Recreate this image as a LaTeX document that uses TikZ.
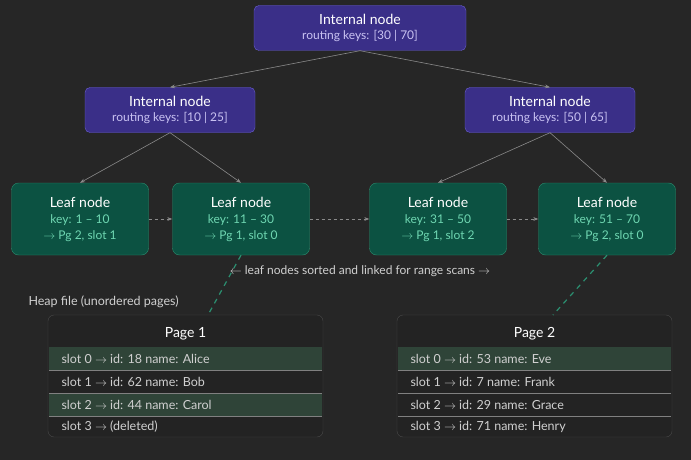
\documentclass[tikz,border=0pt]{standalone}
\usepackage{fontspec}
\setmainfont{Lato}
\usetikzlibrary{positioning, calc, arrows.meta}
\definecolor{bgFill}{HTML}{262626}
\definecolor{iFill}{HTML}{3A2F88}
\definecolor{iDraw}{HTML}{6A5FCF}
\definecolor{iSub}{HTML}{C9C2F2}
\definecolor{lFill}{HTML}{0C5242}
\definecolor{lDraw}{HTML}{2B8F70}
\definecolor{lSub}{HTML}{6FD7B2}
\definecolor{pFill}{HTML}{232323}
\definecolor{pDraw}{HTML}{4A4A4A}
\definecolor{rowFill}{HTML}{2F4438}
\definecolor{eColor}{HTML}{8A8A8A}
\definecolor{tColor}{HTML}{D0D0D0}
\tikzset{
    Internal/.style = {
        draw=iDraw, fill=iFill, rounded corners=5pt,
        minimum width=170pt, minimum height=45pt, align=center,
        text=white, font=\fontsize{14}{17}\selectfont
    },
    Leaf/.style = {
        draw=lDraw, fill=lFill, rounded corners=7pt,
        minimum width=137pt, minimum height=72pt, align=center,
        text=white, font=\fontsize{14}{17}\selectfont
    },
    Page/.style = {
        draw=pDraw, fill=pFill, rounded corners=6pt
    },
    Edge/.style = {draw=eColor, -{Stealth[length=5pt]}, line width=0.6pt},
    Link/.style = {draw=eColor, dashed, -{Stealth[length=5pt]}, line width=0.6pt},
    Ptr/.style = {draw=lDraw, dashed, line width=1.2pt, dash pattern=on 5pt off 5pt},
    Row/.style = {anchor=west, text=tColor, font=\fontsize{12.5}{14}\selectfont}
}
\newcommand{\isub}[1]{\\[-2pt]{\fontsize{12}{14}\selectfont\color{iSub}#1}}
\newcommand{\lsub}[1]{\\[-1pt]{\fontsize{12}{15}\selectfont\color{lSub}#1}}
\begin{document}
\begin{tikzpicture}[x=1pt, y=-1pt]
    \fill [bgFill] (0,0) rectangle (691,460);
    \useasboundingbox (0,0) rectangle (691,460);
    % tree
    \node [Internal, minimum width=212pt] (R) at (360,28) {Internal node\isub{routing keys: [30 | 70]}};
    \node [Internal] (IL) at (170,110) {Internal node\isub{routing keys: [10 | 25]}};
    \node [Internal] (IR) at (550,110) {Internal node\isub{routing keys: [50 | 65]}};
    \node [Leaf] (L1) at (80,219) {Leaf node\lsub{key: 1 -- 10}\lsub{$\rightarrow$ Pg 2, slot 1}};
    \node [Leaf] (L2) at (241,219) {Leaf node\lsub{key: 11 -- 30}\lsub{$\rightarrow$ Pg 1, slot 0}};
    \node [Leaf] (L3) at (438,219) {Leaf node\lsub{key: 31 -- 50}\lsub{$\rightarrow$ Pg 1, slot 2}};
    \node [Leaf] (L4) at (607,219) {Leaf node\lsub{key: 51 -- 70}\lsub{$\rightarrow$ Pg 2, slot 0}};
    \draw [Edge] (R.south) to (IL.north);
    \draw [Edge] (R.south) to (IR.north);
    \draw [Edge] (IL.south) to (L1.north);
    \draw [Edge] (IL.south) to (L2.north);
    \draw [Edge] (IR.south) to (L3.north);
    \draw [Edge] (IR.south) to (L4.north);
    \draw [Link] (L1) to (L2);
    \draw [Link] (L2) to (L3);
    \draw [Link] (L3) to (L4);
    \node [text=tColor, font=\fontsize{12}{14}\selectfont] (cap) at (360,271)
        {$\leftarrow$ leaf nodes sorted and linked for range scans $\rightarrow$};
    % heap pages
    \node [anchor=west, text=tColor, font=\fontsize{12.5}{14}\selectfont] (heap) at (25,302) {Heap file (unordered pages)};
    \node [Page, minimum width=275pt, minimum height=122pt] (P1) at (185.5,376) {};
    \node [Page, minimum width=275pt, minimum height=122pt] (P2) at (534.5,376) {};
    \fill [rowFill] (49,347) rectangle (322,370);
    \fill [rowFill] (49,393) rectangle (322,416);
    \fill [rowFill] (398,347) rectangle (671,370);
    \foreach \y in {370,393,416} {
        \draw [pDraw!70, line width=0.4pt] (49,\y) -- (322,\y);
        \draw [pDraw!70, line width=0.4pt] (398,\y) -- (671,\y);
    }
    \node [text=white, font=\fontsize{14}{17}\selectfont] (t1) at (185.5,334) {Page 1};
    \node [text=white, font=\fontsize{14}{17}\selectfont] (t2) at (534.5,334) {Page 2};
    \node [Row] (a0) at (58,358.5) {slot 0 $\rightarrow$ id: 18 name: Alice};
    \node [Row] (a1) at (58,381.5) {slot 1 $\rightarrow$ id: 62 name: Bob};
    \node [Row] (a2) at (58,404.5) {slot 2 $\rightarrow$ id: 44 name: Carol};
    \node [Row] (a3) at (58,427) {slot 3 $\rightarrow$ (deleted)};
    \node [Row] (b0) at (407,358.5) {slot 0 $\rightarrow$ id: 53 name: Eve};
    \node [Row] (b1) at (407,381.5) {slot 1 $\rightarrow$ id: 7 name: Frank};
    \node [Row] (b2) at (407,404.5) {slot 2 $\rightarrow$ id: 29 name: Grace};
    \node [Row] (b3) at (407,427) {slot 3 $\rightarrow$ id: 71 name: Henry};
    \coordinate (q1) at (208,315);
    \coordinate (q2) at (553,315);
    \draw [Ptr] (L2.south) to (q1);
    \draw [Ptr] (L4.south) to (q2);
\end{tikzpicture}
\end{document}
